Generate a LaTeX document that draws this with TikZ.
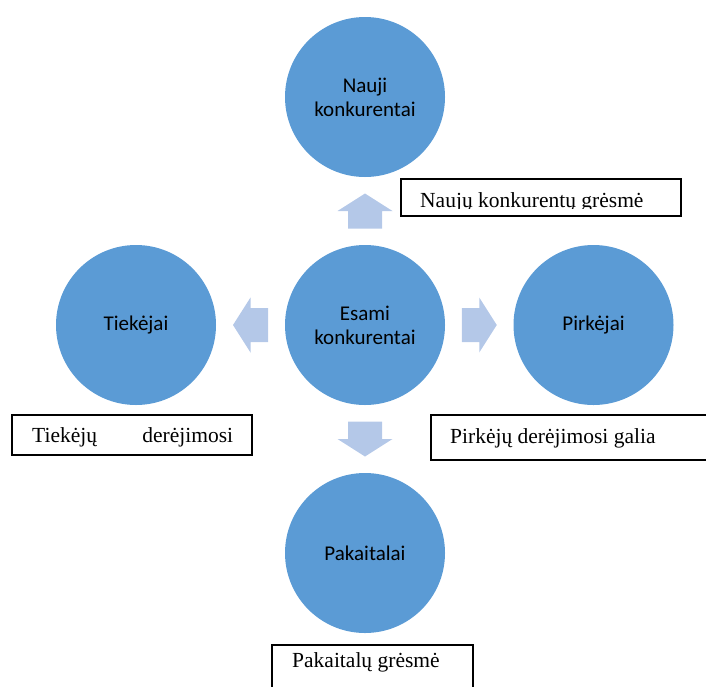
\documentclass[tikz,border=0pt]{standalone}
\usepackage{fontspec}
\setmainfont{Liberation Serif}
\newfontfamily\bubblefont{Carlito}
\usetikzlibrary{calc}

\definecolor{bubbleblue}{HTML}{5B9BD5}
\definecolor{arrowblue}{HTML}{B4C8E8}

\tikzset{
  bubble/.style={circle, fill=bubbleblue, minimum size=160pt, inner sep=0pt,
    align=center, font=\bubblefont\fontsize{21}{24}\selectfont},
  labelbox/.style={draw=black, line width=2pt, inner sep=0pt},
  boxtext/.style={font=\fontsize{21.5}{25}\selectfont, inner sep=0pt},
  blockarrow/.style={fill=arrowblue}
}

\begin{document}
\begin{tikzpicture}[x=1pt,y=-1pt]
  \useasboundingbox (0,0) rectangle (706,686);
  \clip (0,0) rectangle (706,686);
  % forces
  \node[bubble] (cur) at (365,325) {Esami\\konkurentai};
  \node[bubble] (new) at (365,97) {Nauji\\konkurentai};
  \node[bubble] (sup) at (136,325) {Tiekėjai};
  \node[bubble] (buy) at (593.5,325) {Pirkėjai};
  \node[bubble] (sub) at (365,553) {Pakaitalai};
  % block arrows, halfway between the circles
  \foreach \target/\ang in {new/90,sup/180,buy/0,sub/270}
    \fill[blockarrow, shift={($(cur)!0.5!(\target)$)}, rotate=\ang]
      (-17.5,-17) -- (0,-17) -- (0,-27.5) -- (17.5,0) -- (0,27.5) -- (0,17) -- (-17.5,17) -- cycle;
  % label boxes
  \node[labelbox, minimum width=279.5, minimum height=37, anchor=north west] (newbox) at (400,178) {};
  \begin{scope}
    \clip (newbox.north west) rectangle (680,208.5);
    \node[boxtext, anchor=base west] (newtext) at (420,207) {Naujų konkurentų grėsmė};
  \end{scope}
  \node[labelbox, minimum width=240, minimum height=40, anchor=north west] (supbox) at (11,414) {};
  \node[boxtext, anchor=base west] (suptext) at (32,442) {\makebox[201pt]{Tiekėjų\hfill derėjimosi}};
  \node[labelbox, minimum width=300, minimum height=45, anchor=north west] (buybox) at (430,414) {};
  \node[boxtext, anchor=base west] (buytext) at (450,443) {Pirkėjų derėjimosi galia};
  \node[labelbox, minimum width=201, minimum height=60, anchor=north west] (subbox) at (271,644) {};
  \node[boxtext, anchor=base west] (subtext) at (292,667) {Pakaitalų grėsmė};
\end{tikzpicture}
\end{document}
